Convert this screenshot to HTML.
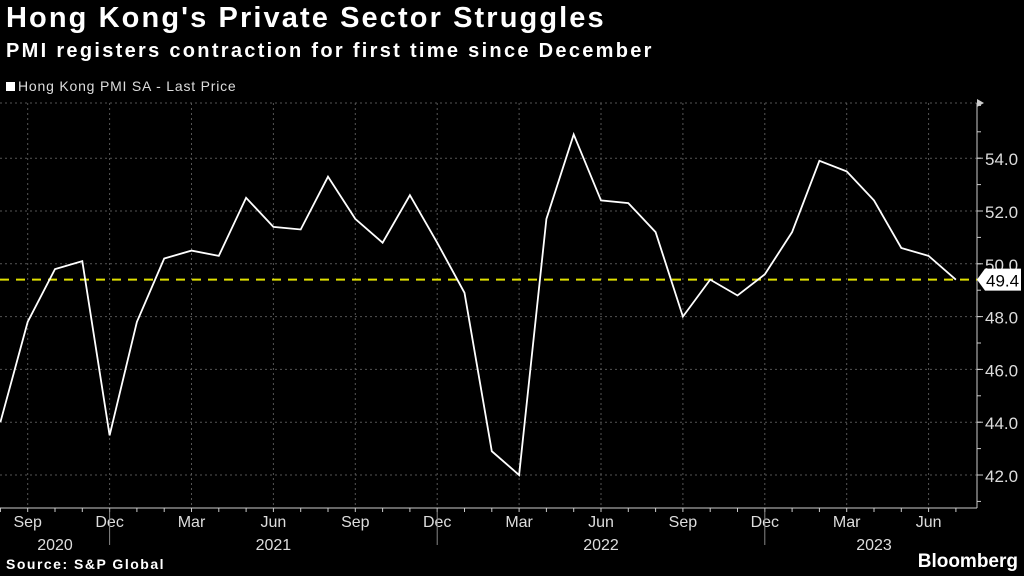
<!DOCTYPE html>
<html><head><meta charset="utf-8"><style>
body{margin:0;background:#000;width:1024px;height:576px;overflow:hidden;font-family:"Liberation Sans",sans-serif;color:#fff}
.t{position:absolute;left:6px;white-space:nowrap}
</style></head><body>
<div class="t" style="top:2px;font-size:29px;font-weight:bold;letter-spacing:2.1px">Hong Kong's Private Sector Struggles</div>
<div class="t" style="top:40px;font-size:20px;font-weight:bold;letter-spacing:2.3px">PMI registers contraction for first time since December</div>
<div class="t" style="top:78px;font-size:14px;color:#ddd;letter-spacing:0.8px"><span style="display:inline-block;width:9px;height:9px;background:#fff;margin-right:3px"></span>Hong Kong PMI SA - Last Price</div>
<div class="t" style="top:556px;font-size:14px;font-weight:bold;letter-spacing:1.5px">Source: S&amp;P Global</div>
<div class="t" style="top:551px;left:auto;right:6px;font-size:19px;font-weight:bold">Bloomberg</div>
<svg id="c" width="1024" height="576" style="position:absolute;left:0;top:0"></svg>
<script>
const values=[44.0,47.8,49.8,50.1,43.5,47.8,50.2,50.5,50.3,52.5,51.4,51.3,53.3,51.7,50.8,52.6,50.8,48.9,42.9,42.0,51.7,54.9,52.4,52.3,51.2,48.0,49.4,48.8,49.6,51.2,53.9,53.5,52.4,50.6,50.3,49.4];
const yTicks=[42,44,46,48,50,52,54];
const yTickLabels=["42.0","44.0","46.0","48.0","50.0","52.0","54.0"];
const monthLabels=["Sep","Dec","Mar","Jun","Sep","Dec","Mar","Jun","Sep","Dec","Mar","Jun"];
const yearLabels=["2020","2021","2022","2023"];
const lastValue=49.4;
const NS="http://www.w3.org/2000/svg";
const svg=document.getElementById('c');
const xs=i=>0.4+i*27.3;
const ys=v=>475-(v-42)*26.4;
function mk(t,a){const e=document.createElementNS(NS,t);for(const k in a)e.setAttribute(k,a[k]);svg.appendChild(e);return e;}
yTicks.forEach((v,i)=>{
 const g=mk('line',{x1:0,x2:977,y1:ys(v),y2:ys(v),stroke:'#555','stroke-dasharray':'2,3'});
 
 
 const t=mk('text',{x:985,y:ys(v)+7,fill:'#ddd','font-size':17,'font-family':'Liberation Sans'});
 t.textContent=yTickLabels[i];
 
 
 mk('line',{x1:977,x2:983,y1:ys(v),y2:ys(v),stroke:'#ccc'});
});
for(let v=41;v<=56;v++){if(ys(v)>103&&ys(v)<508)mk('line',{x1:977,x2:981,y1:ys(v),y2:ys(v),stroke:'#ccc'});}
mk('line',{x1:0,x2:977,y1:103,y2:103,stroke:'#555','stroke-dasharray':'2,3'});
monthLabels.forEach((m,i)=>{
 const x=xs(1+i*3);
 const g=mk('line',{x1:x,x2:x,y1:103,y2:508,stroke:'#555','stroke-dasharray':'2,3'});
 
 
 const t=mk('text',{x:x,y:527,fill:'#ddd','font-size':16,'text-anchor':'middle','font-family':'Liberation Sans'});
 t.textContent=m;
 
 
});
for(let i=0;i<36;i++)mk('line',{x1:xs(i),x2:xs(i),y1:508,y2:512,stroke:'#ccc'});
[4,16,28].forEach(i=>mk('line',{x1:xs(i),x2:xs(i),y1:508,y2:545,stroke:'#888'}));
const yPos=[2,10,22,32];
yearLabels.forEach((y,i)=>{
 const t=mk('text',{x:xs(yPos[i]),y:550,fill:'#ddd','font-size':16,'text-anchor':'middle','font-family':'Liberation Sans'});
 t.textContent=y;
 
 
});
const ax=mk('line',{x1:0,x2:977,y1:508,y2:508,stroke:'#ccc'});


const ay=mk('line',{x1:977,x2:977,y1:103,y2:508,stroke:'#ccc'});


mk('path',{d:'M977,99 L984,103 L977,107 Z',fill:'#ccc'});
const ref=mk('line',{x1:0,x2:977,y1:ys(lastValue),y2:ys(lastValue),stroke:'#e0e000','stroke-width':2,'stroke-dasharray':'9,7'});


const line=mk('polyline',{points:values.map((v,i)=>xs(i)+','+ys(v)).join(' '),fill:'none',stroke:'#fff','stroke-width':1.8});


const yl=ys(lastValue);
const box=mk('path',{d:`M977,${yl} L985,${yl-11} L1021,${yl-11} L1021,${yl+11} L985,${yl+11} Z`,fill:'#fff'});


const lt=mk('text',{x:986,y:yl+7,fill:'#000','font-size':17,'font-family':'Liberation Sans'});
lt.textContent=lastValue.toFixed(1);


</script>
</body></html>
